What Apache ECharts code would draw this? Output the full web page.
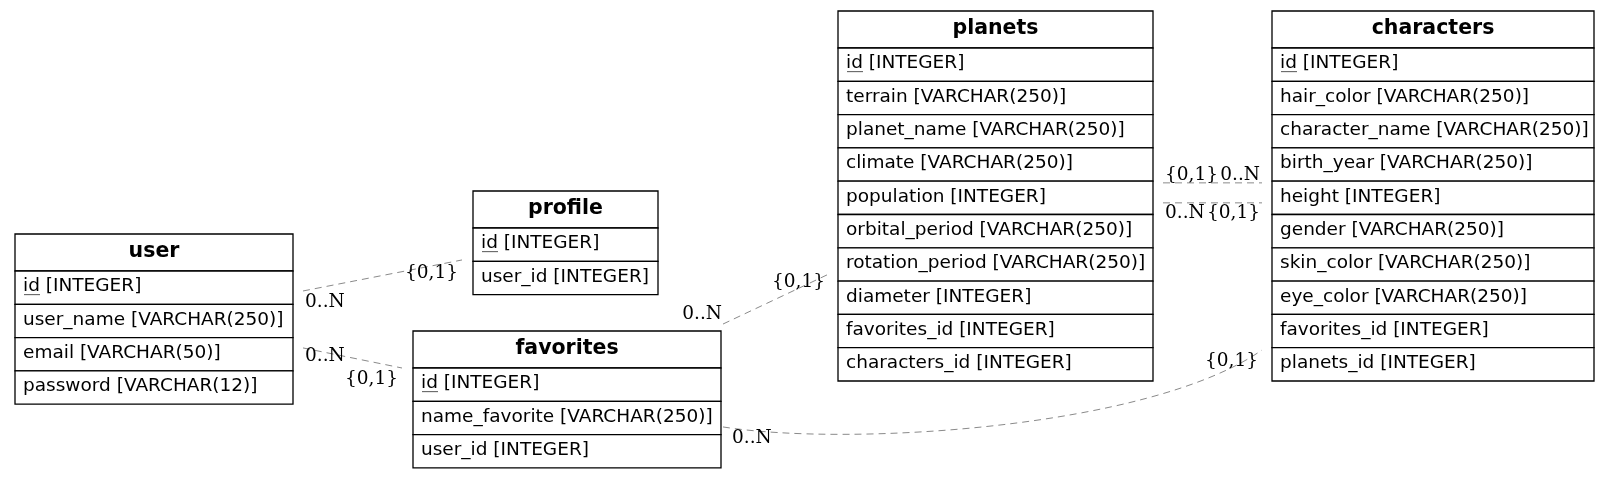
<!DOCTYPE html>
<html lang="en">
<head>
    <meta charset="UTF-8">
    <title>ER diagram</title>
    <script src="https://cdn.jsdelivr.net/npm/echarts@6/dist/echarts.min.js"></script>
    <style>
        html, body { margin: 0; padding: 0; background: #fff; }
        #main { width: 1612px; height: 478px; }
    </style>
</head>
<body>
<div id="main"></div>
<script>
    // tables and their columns
    var tableNames = ['user', 'profile', 'favorites', 'planets', 'characters'];
    var userFields = ['id [INTEGER]', 'user_name [VARCHAR(250)]', 'email [VARCHAR(50)]', 'password [VARCHAR(12)]'];
    var profileFields = ['id [INTEGER]', 'user_id [INTEGER]'];
    var favoritesFields = ['id [INTEGER]', 'name_favorite [VARCHAR(250)]', 'user_id [INTEGER]'];
    var planetsFields = ['id [INTEGER]', 'terrain [VARCHAR(250)]', 'planet_name [VARCHAR(250)]', 'climate [VARCHAR(250)]',
        'population [INTEGER]', 'orbital_period [VARCHAR(250)]', 'rotation_period [VARCHAR(250)]', 'diameter [INTEGER]',
        'favorites_id [INTEGER]', 'characters_id [INTEGER]'];
    var charactersFields = ['id [INTEGER]', 'hair_color [VARCHAR(250)]', 'character_name [VARCHAR(250)]', 'birth_year [VARCHAR(250)]',
        'height [INTEGER]', 'gender [VARCHAR(250)]', 'skin_color [VARCHAR(250)]', 'eye_color [VARCHAR(250)]',
        'favorites_id [INTEGER]', 'planets_id [INTEGER]'];
    var fieldLists = [userFields, profileFields, favoritesFields, planetsFields, charactersFields];

    // relations: [from table, to table, label at from end, label at to end]
    var relFrom = ['user', 'user', 'favorites', 'planets', 'planets', 'favorites'];
    var relTo = ['profile', 'favorites', 'planets', 'characters', 'characters', 'characters'];
    var relFromLabel = ['0..N', '0..N', '0..N', '{0,1}', '0..N', '0..N'];
    var relToLabel = ['{0,1}', '{0,1}', '{0,1}', '0..N', '{0,1}', '{0,1}'];

    // ---- layout (diagram units = px) ----
    var HEADER_H = 37, ROW_H = 33.3;
    var boxes = {
        user:       { x: 15,   y: 234, w: 278 },
        profile:    { x: 473,  y: 191, w: 185 },
        favorites:  { x: 413,  y: 331, w: 308 },
        planets:    { x: 838,  y: 11,  w: 315 },
        characters: { x: 1272, y: 11,  w: 322 }
    };
    // where each relation leaves / enters a box: row fraction, side, gap
    var relEnds = [
        { fr: 0.6,   fs: 1,  fg: 10, tr: 0.96, ts: -1, tg: 11,
          fl: [2, 11, 'left'],  tl: [-4, 13, 'right'] },
        { fr: 2.31,  fs: 1,  fg: 10, tr: 0,    ts: -1, tg: 11,
          fl: [2, 8, 'left'],   tl: [-4, 11, 'right'] },
        { fr: -1.32, fs: 1,  fg: 2,  tr: 6.8,  ts: -1, tg: 10,
          fl: [-1, -10, 'right'], tl: [-3, 8, 'right'] },
        { fr: 4.05,  fs: 1,  fg: 10, tr: 4.05, ts: -1, tg: 10,
          fl: [2, -8, 'left'],  tl: [-2, -8, 'right'] },
        { fr: 4.65,  fs: 1,  fg: 10, tr: 4.65, ts: -1, tg: 10,
          fl: [2, 10, 'left'],  tl: [-2, 10, 'right'] },
        { fr: 1.77,  fs: 1,  fg: 2,  tr: 9.07, ts: -1, tg: 10,
          fl: [9, 11, 'left'],  tl: [-4, 11, 'right'],
          curve: [[127, 20], [-112, 78]] }
    ];

    var SANS = '"DejaVu Sans", Verdana, sans-serif';
    var SERIF = '"DejaVu Serif", serif';

    // one data item per cell: [table index, row index] (row -1 = header)
    var cellData = [];
    tableNames.forEach(function (t, ti) {
        cellData.push([ti, -1]);
        fieldLists[ti].forEach(function (f, ri) { cellData.push([ti, ri]); });
    });
    var relData = relFrom.map(function (f, i) { return [i]; });

    function endPoint(table, row, side, gap) {
        var b = boxes[table];
        var y = b.y + HEADER_H + row * ROW_H;
        var x = side > 0 ? b.x + b.w + gap : b.x - gap;
        return [x, y];
    }

    var myChart = echarts.init(document.getElementById('main'));
    var option = {
        backgroundColor: '#fff',
        animation: false,
        grid: { left: 0, right: 0, top: 0, bottom: 0 },
        xAxis: { type: 'value', min: 0, max: 1612, show: false },
        yAxis: { type: 'value', min: 0, max: 478, inverse: true, show: false },
        series: [
            {
                name: 'relations',
                type: 'custom',
                clip: false,
                data: relData,
                renderItem: function (params, api) {
                    var i = api.value(0);
                    var e = relEnds[i];
                    var p0 = endPoint(relFrom[i], e.fr, e.fs, e.fg);
                    var p3 = endPoint(relTo[i], e.tr, e.ts, e.tg);
                    var a = api.coord(p0), b = api.coord(p3);
                    var lineStyle = { stroke: '#8a8a8a', lineWidth: 1, lineDash: [7, 5], fill: null };
                    var path;
                    if (e.curve) {
                        var c1 = api.coord([p0[0] + e.curve[0][0], p0[1] + e.curve[0][1]]);
                        var c2 = api.coord([p3[0] + e.curve[1][0], p3[1] + e.curve[1][1]]);
                        path = { type: 'bezierCurve', shape: { x1: a[0], y1: a[1], x2: b[0], y2: b[1],
                            cpx1: c1[0], cpy1: c1[1], cpx2: c2[0], cpy2: c2[1] }, style: lineStyle };
                    } else {
                        path = { type: 'line', shape: { x1: a[0], y1: a[1], x2: b[0], y2: b[1] }, style: lineStyle };
                    }
                    var labelStyle = function (txt, p, off) {
                        return { type: 'text', z2: 5, style: {
                            text: txt, x: p[0] + off[0], y: p[1] + off[1], align: off[2], verticalAlign: 'middle',
                            fontFamily: SERIF, fontSize: 18.5, fill: '#000'
                        } };
                    };
                    return { type: 'group', children: [
                        path,
                        labelStyle(relFromLabel[i], a, e.fl),
                        labelStyle(relToLabel[i], b, e.tl)
                    ] };
                }
            },
            {
                name: 'tables',
                type: 'custom',
                clip: false,
                data: cellData,
                renderItem: function (params, api) {
                    var ti = api.value(0), ri = api.value(1);
                    var b = boxes[tableNames[ti]];
                    var top = ri < 0 ? b.y : b.y + HEADER_H + ri * ROW_H;
                    var h = ri < 0 ? HEADER_H : ROW_H;
                    var p1 = api.coord([b.x, top]);
                    var p2 = api.coord([b.x + b.w, top + h]);
                    var children = [{
                        type: 'rect',
                        shape: { x: p1[0], y: p1[1], width: p2[0] - p1[0], height: p2[1] - p1[1] },
                        style: { fill: '#fff', stroke: '#000', lineWidth: 1.3 }
                    }];
                    var cy = (p1[1] + p2[1]) / 2 - 1;
                    if (ri < 0) {
                        children.push({ type: 'text', style: {
                            text: tableNames[ti], x: (p1[0] + p2[0]) / 2, y: cy,
                            align: 'center', verticalAlign: 'middle',
                            fontFamily: SANS, fontWeight: 'bold', fontSize: 20.5, fill: '#000'
                        } });
                    } else {
                        var txt = fieldLists[ti][ri];
                        var tx = p1[0] + 8;
                        children.push({ type: 'text', style: {
                            text: txt, x: tx, y: cy,
                            align: 'left', verticalAlign: 'middle',
                            fontFamily: SANS, fontSize: 18.5, fill: '#000'
                        } });
                        if (txt.indexOf('id ') === 0) {
                            // primary key underline
                            children.push({ type: 'line',
                                shape: { x1: tx + 1, y1: cy + 8, x2: tx + 17, y2: cy + 8 },
                                style: { stroke: '#555', lineWidth: 1 } });
                        }
                    }
                    return { type: 'group', children: children };
                }
            }
        ]
    };
    myChart.setOption(option);
</script>
</body>
</html>
